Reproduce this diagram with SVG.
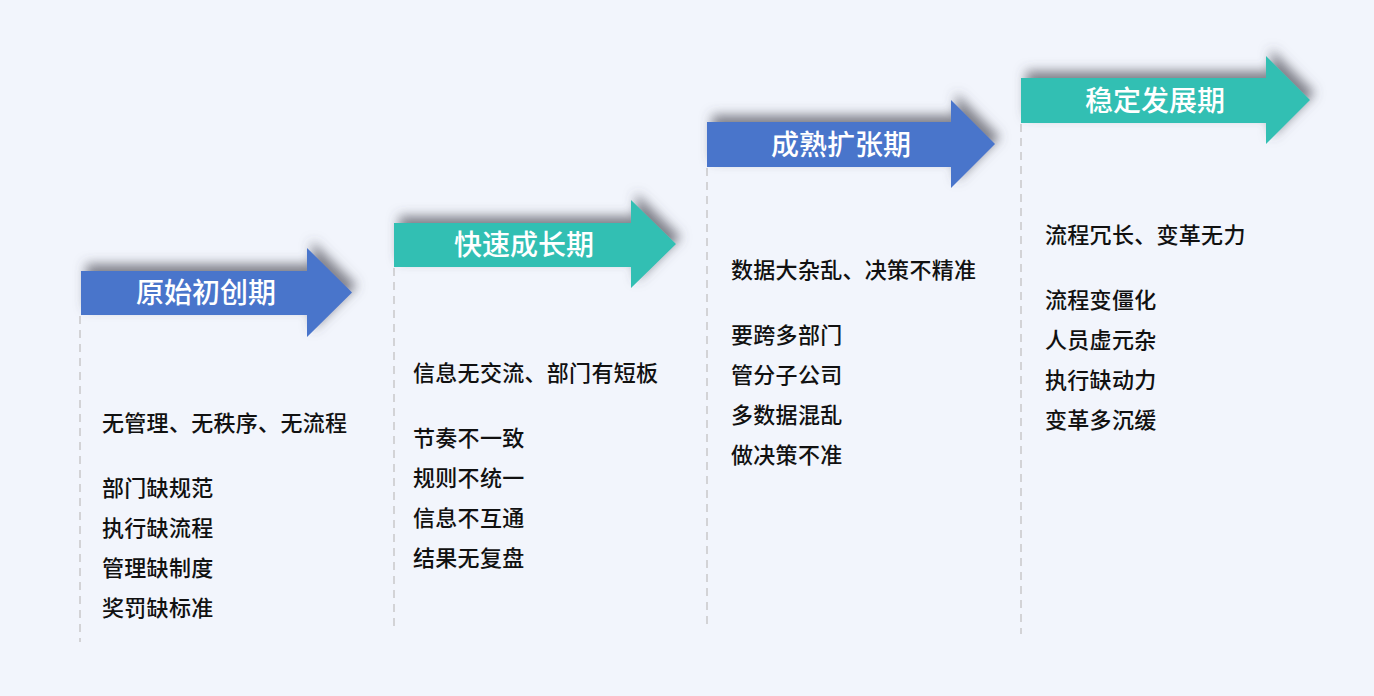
<svg xmlns="http://www.w3.org/2000/svg" width="1374" height="696" viewBox="0 0 1374 696">
<style>
.bg{fill:#f2f5fc}
.blue{fill:#4874cb}
.teal{fill:#31bfb3}
.title{font-family:"Noto Sans CJK SC","Noto Sans",sans-serif;font-size:28px;font-weight:500;fill:#ffffff;text-anchor:middle}
.item{font-family:"Noto Sans CJK SC","Noto Sans",sans-serif;font-size:22px;font-weight:500;fill:#111111;letter-spacing:0.3px}
.dash{stroke:#d3d3d6;stroke-width:2;stroke-dasharray:8 6;fill:none}
</style>
<defs>
<filter id="sh" x="-20%" y="-50%" width="140%" height="200%">
<feDropShadow dx="5" dy="-7" stdDeviation="6" flood-color="#50505a" flood-opacity="0.7"/>
</filter>
</defs>
<rect class="bg" x="0" y="0" width="1374" height="696"/>
<g id="connectors">
<line class="dash" x1="80" y1="316" x2="80" y2="642"/>
<line class="dash" x1="394" y1="268" x2="394" y2="628"/>
<line class="dash" x1="707" y1="168" x2="707" y2="626"/>
<line class="dash" x1="1021" y1="124" x2="1021" y2="634"/>
</g>
<g id="stage1">
<path class="blue" filter="url(#sh)" d="M81,271 H307 V248 L352,292.5 L307,337 V315 H81 Z"/>
<text class="title" x="206" y="303">原始初创期</text>
<text class="item" x="102" y="431">无管理、无秩序、无流程</text>
<text class="item" x="102" y="496">部门缺规范</text>
<text class="item" x="102" y="536">执行缺流程</text>
<text class="item" x="102" y="576">管理缺制度</text>
<text class="item" x="102" y="616">奖罚缺标准</text>
</g>
<g id="stage2">
<path class="teal" filter="url(#sh)" d="M394,223 H631 V200 L676,244 L631,288 V267 H394 Z"/>
<text class="title" x="524" y="255">快速成长期</text>
<text class="item" x="413" y="381">信息无交流、部门有短板</text>
<text class="item" x="413" y="446">节奏不一致</text>
<text class="item" x="413" y="486">规则不统一</text>
<text class="item" x="413" y="526">信息不互通</text>
<text class="item" x="413" y="566">结果无复盘</text>
</g>
<g id="stage3">
<path class="blue" filter="url(#sh)" d="M707,122 H951 V100 L995,144 L951,188 V167 H707 Z"/>
<text class="title" x="841" y="155">成熟扩张期</text>
<text class="item" x="731" y="278">数据大杂乱、决策不精准</text>
<text class="item" x="731" y="343">要跨多部门</text>
<text class="item" x="731" y="383">管分子公司</text>
<text class="item" x="731" y="423">多数据混乱</text>
<text class="item" x="731" y="463">做决策不准</text>
</g>
<g id="stage4">
<path class="teal" filter="url(#sh)" d="M1021,78 H1266 V56 L1310,100 L1266,144 V123 H1021 Z"/>
<text class="title" x="1155" y="111">稳定发展期</text>
<text class="item" x="1045" y="243">流程冗长、变革无力</text>
<text class="item" x="1045" y="308">流程变僵化</text>
<text class="item" x="1045" y="348">人员虚元杂</text>
<text class="item" x="1045" y="388">执行缺动力</text>
<text class="item" x="1045" y="428">变革多沉缓</text>
</g>
</svg>
